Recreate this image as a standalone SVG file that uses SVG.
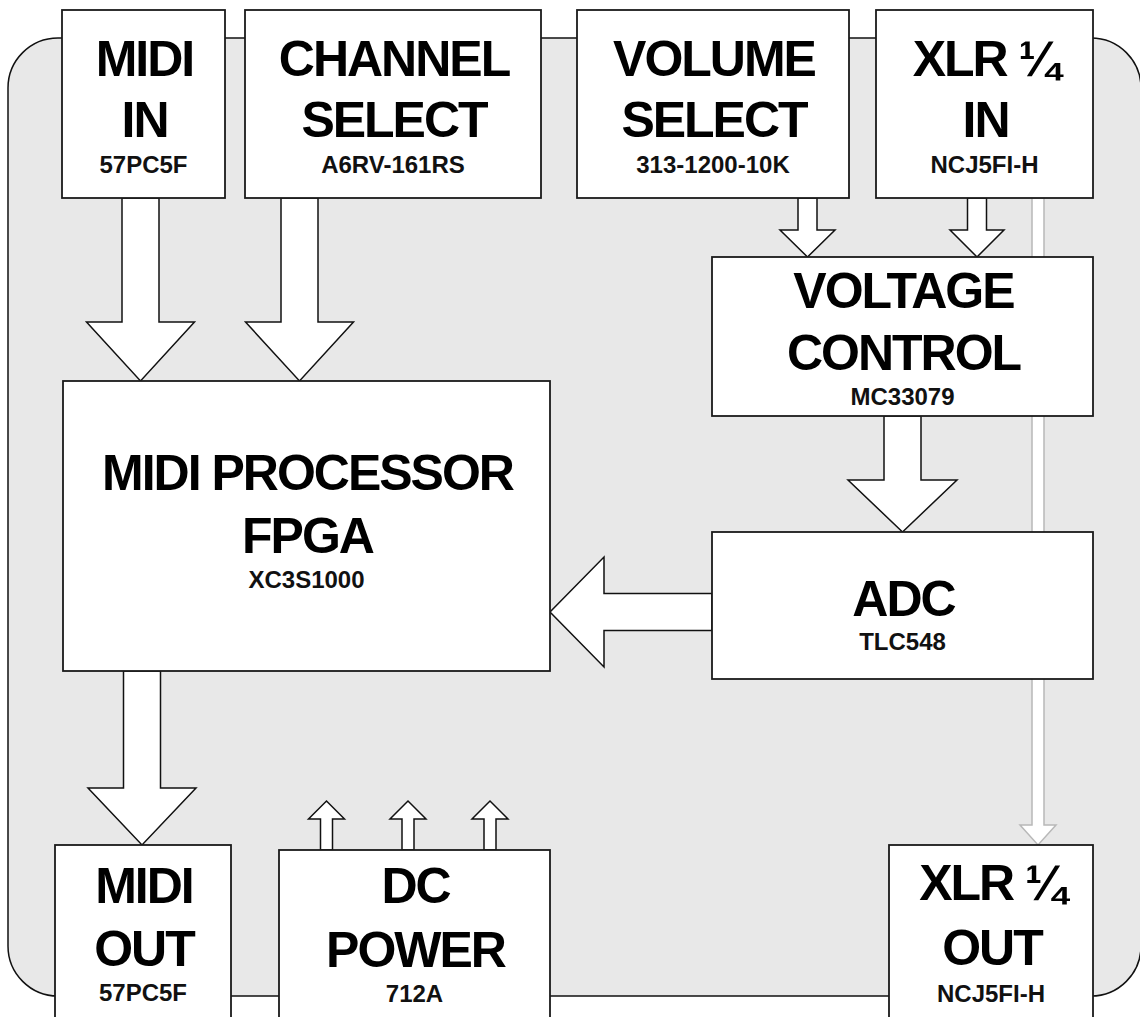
<svg xmlns="http://www.w3.org/2000/svg" width="1140" height="1017" viewBox="0 0 1140 1017">
<style>
.bg{fill:#e8e8e8;stroke:#111;stroke-width:1.5}
.box{fill:#fff;stroke:#1a1a1a;stroke-width:1.8}
.arr{fill:#fff;stroke:#111;stroke-width:1.5;stroke-linejoin:miter}
.garr{fill:#fff;stroke:#b8b8b8;stroke-width:1.5}
.t{font-family:"Liberation Sans",Arial,sans-serif;font-weight:bold;font-size:50px;letter-spacing:-2px;text-anchor:middle;fill:#000}
.s{font-family:"Liberation Sans",Arial,sans-serif;font-weight:bold;font-size:24px;text-anchor:middle;fill:#111}
</style>
<rect class="bg" x="8" y="38" width="1133" height="958" rx="50" ry="50"/>
<g id="connectors">
<polygon class="garr" points="1032,198 1044,198 1044,825 1056,825 1038,845 1020,825 1032,825"/>
<polygon class="arr" points="122,198 159,198 159,322 194.5,322 140.5,381 86.5,322 122,322"/>
<polygon class="arr" points="281,198 318,198 318,322 353.5,322 299.5,381 245.5,322 281,322"/>
<polygon class="arr" points="798,198 817,198 817,230 835,230 807.5,257 780,230 798,230"/>
<polygon class="arr" points="967.5,198 986.5,198 986.5,230 1004,230 977,257 950,230 967.5,230"/>
<polygon class="arr" points="884,416 921,416 921,480 957,480 902.5,532 848,480 884,480"/>
<polygon class="arr" points="712,593.5 712,630.5 604,630.5 604,667 550,612 604,557 604,593.5"/>
<polygon class="arr" points="123.5,671 160.5,671 160.5,788 196,788 142,845 88,788 123.5,788"/>
<polygon class="arr" points="320.5,850 332.5,850 332.5,819 344.5,819 326.5,801 308.5,819 320.5,819"/>
<polygon class="arr" points="402,850 414,850 414,819 426,819 408,801 390,819 402,819"/>
<polygon class="arr" points="484,850 496,850 496,819 508,819 490,801 472,819 484,819"/>
</g>
<g id="midi-in">
<rect class="box" x="62" y="10" width="163" height="188"/>
<text class="t" x="144.5" y="76">MIDI</text>
<text class="t" x="144.5" y="137">IN</text>
<text class="s" x="143.5" y="173">57PC5F</text>
</g>
<g id="channel-select">
<rect class="box" x="245" y="10" width="296" height="188"/>
<text class="t" x="394" y="76">CHANNEL</text>
<text class="t" x="394" y="137">SELECT</text>
<text class="s" x="393" y="173">A6RV-161RS</text>
</g>
<g id="volume-select">
<rect class="box" x="577" y="10" width="272" height="188"/>
<text class="t" x="714" y="76">VOLUME</text>
<text class="t" x="714" y="137">SELECT</text>
<text class="s" x="713" y="173">313-1200-10K</text>
</g>
<g id="xlr-in">
<rect class="box" x="876" y="10" width="217" height="188"/>
<text class="t" x="985.5" y="76">XLR ¼</text>
<text class="t" x="985.5" y="137">IN</text>
<text class="s" x="984.5" y="173">NCJ5FI-H</text>
</g>
<g id="voltage-control">
<rect class="box" x="712" y="257" width="381" height="159"/>
<text class="t" x="903.5" y="308">VOLTAGE</text>
<text class="t" x="903.5" y="370">CONTROL</text>
<text class="s" x="902.5" y="405">MC33079</text>
</g>
<g id="midi-processor">
<rect class="box" x="63" y="381" width="487" height="290"/>
<text class="t" x="307.5" y="490">MIDI PROCESSOR</text>
<text class="t" x="307.5" y="553">FPGA</text>
<text class="s" x="306.5" y="588">XC3S1000</text>
</g>
<g id="adc">
<rect class="box" x="712" y="532" width="381" height="147"/>
<text class="t" x="903.5" y="616">ADC</text>
<text class="s" x="902.5" y="650">TLC548</text>
</g>
<g id="midi-out">
<rect class="box" x="55" y="845" width="176" height="190"/>
<text class="t" x="144" y="903">MIDI</text>
<text class="t" x="144" y="966">OUT</text>
<text class="s" x="143" y="1001">57PC5F</text>
</g>
<g id="dc-power">
<rect class="box" x="279" y="850" width="271" height="190"/>
<text class="t" x="415.5" y="903">DC</text>
<text class="t" x="415.5" y="967">POWER</text>
<text class="s" x="414.5" y="1002">712A</text>
</g>
<g id="xlr-out">
<rect class="box" x="889" y="845" width="204" height="190"/>
<text class="t" x="992" y="900">XLR ¼</text>
<text class="t" x="992" y="965">OUT</text>
<text class="s" x="991" y="1002">NCJ5FI-H</text>
</g>
</svg>
